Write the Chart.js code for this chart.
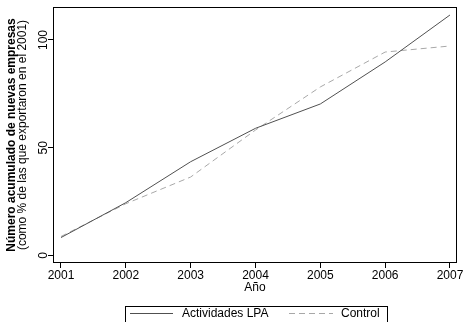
<!DOCTYPE html>
<html>
<head>
<meta charset="utf-8">
<script src="https://cdn.jsdelivr.net/npm/chart.js@4.4.1/dist/chart.umd.min.js"></script>
<style>
html, body { margin: 0; padding: 0; background: #fff; }
#wrap { width: 463px; height: 322px; }
</style>
</head>
<body>
<div id="wrap"><canvas id="chart" width="463" height="322"></canvas></div>
<script>
const years = [2001, 2002, 2003, 2004, 2005, 2006, 2007];
const lpa = [8.3, 24.5, 43.5, 59, 70.3, 89.8, 111.6];
const control = [8.8, 24, 36.4, 58.2, 78.2, 94.4, 97.2];
const yTicks = [0, 50, 100];
const seriesNames = ["Actividades LPA", "Control"];
const yTitle = ["Número acumulado de nuevas empresas", "(como % de las que exportaron en el 2001)"];
const xTitle = "Año";

const FONT = "'Liberation Sans', Arial, sans-serif";

const extras = {
  id: "extras",
  afterDraw(chart) {
    const c = chart.ctx;
    const a = chart.chartArea;
    c.save();
    // box around plot
    c.strokeStyle = "#000";
    c.lineWidth = 1;
    c.strokeRect(a.left + 0.5, a.top + 0.5, a.right - a.left - 1, a.bottom - a.top - 1);

    // y title, two lines, first one bold
    c.fillStyle = "#000";
    c.textAlign = "center";
    c.textBaseline = "middle";
    const cy = (a.top + a.bottom) / 2;
    c.save();
    c.translate(12, cy);
    c.rotate(-Math.PI / 2);
    c.font = "bold 12px " + FONT;
    c.fillText(yTitle[0], 0, 0);
    c.restore();
    c.save();
    c.translate(23, cy);
    c.rotate(-Math.PI / 2);
    c.font = "12px " + FONT;
    c.fillText(yTitle[1], 0, 0);
    c.restore();

    // x title
    c.font = "12px " + FONT;
    c.fillText(xTitle, (a.left + a.right) / 2, 288);

    // legend
    c.strokeRect(125.5, 306.5, 262, 40);
    const ds = chart.data.datasets;
    const items = [[130, 173, 182], [289, 333, 341]];
    items.forEach((it, i) => {
      c.save();
      c.strokeStyle = ds[i].borderColor;
      c.lineWidth = ds[i].borderWidth;
      c.setLineDash(ds[i].borderDash || []);
      c.beginPath();
      c.moveTo(it[0], 313.5);
      c.lineTo(it[1], 313.5);
      c.stroke();
      c.restore();
      c.textAlign = "left";
      c.fillText(ds[i].label, it[2], 313.5);
    });
    c.restore();
  }
};

new Chart(document.getElementById("chart"), {
  type: "line",
  data: {
    datasets: [{
      label: seriesNames[0],
      data: years.map((y, i) => ({ x: y, y: lpa[i] })),
      borderColor: "#505050",
      borderWidth: 1,
      pointRadius: 0,
      tension: 0
    }, {
      label: seriesNames[1],
      data: years.map((y, i) => ({ x: y, y: control[i] })),
      borderColor: "#a8a8a8",
      borderWidth: 1,
      borderDash: [6, 4],
      pointRadius: 0,
      tension: 0
    }]
  },
  options: {
    responsive: false,
    animation: false,
    layout: { padding: { top: 7, right: 6, left: 0, bottom: 0 } },
    plugins: {
      legend: { display: false },
      tooltip: { enabled: false }
    },
    scales: {
      x: {
        type: "linear",
        min: 2000.877,
        max: 2007.108,
        afterBuildTicks: s => { s.ticks = years.map(v => ({ value: v })); },
        afterFit: s => { s.height = 59; s.paddingLeft = 0; s.paddingRight = 0; },
        grid: { display: true, drawOnChartArea: false, drawTicks: true, tickLength: 5, color: "#000" },
        border: { display: false },
        ticks: {
          color: "#000",
          padding: 0,
          maxRotation: 0,
          font: { family: FONT, size: 12 },
          callback: v => String(v)
        }
      },
      y: {
        min: -3.5,
        max: 115.3,
        afterBuildTicks: s => { s.ticks = yTicks.map(v => ({ value: v })); },
        afterFit: s => { s.width = 53; s.paddingTop = 0; s.paddingBottom = 0; },
        grid: { display: true, drawOnChartArea: false, drawTicks: true, tickLength: 5, color: "#000" },
        border: { display: false },
        ticks: {
          color: "#000",
          padding: -5.5,
          minRotation: 90,
          maxRotation: 90,
          crossAlign: "center",
          font: { family: FONT, size: 12 }
        }
      }
    }
  },
  plugins: [extras]
});
</script>
</body>
</html>
